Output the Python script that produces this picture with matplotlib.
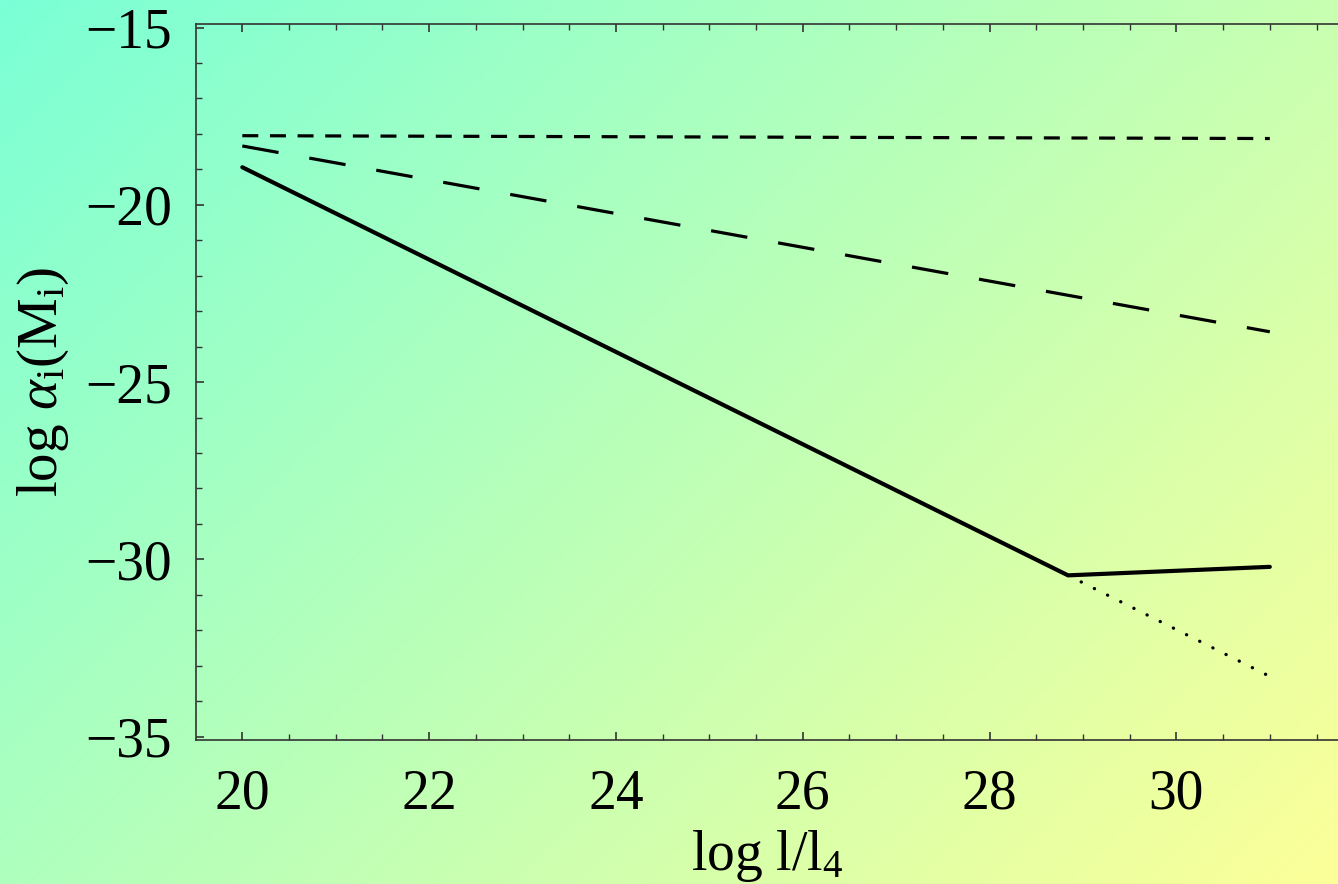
import numpy as np
import matplotlib
matplotlib.use("Agg")
import matplotlib.pyplot as plt
from matplotlib.ticker import MultipleLocator

plt.rcParams['font.family'] = ['Liberation Serif', 'DejaVu Serif']
plt.rcParams['mathtext.fontset'] = 'custom'
plt.rcParams['mathtext.rm'] = 'Liberation Serif'
plt.rcParams['mathtext.it'] = 'Liberation Serif:italic'
plt.rcParams['lines.scale_dashes'] = False

# Data
x_solid = [20.0, 28.84, 31.0]
y_solid = [-18.94, -30.45, -30.21]
x_dotted = [28.84, 31.0]
y_dotted = [-30.45, -33.30]
x_short = [20.0, 31.0]
y_short = [-18.05, -18.13]
x_long = [20.0, 31.0]
y_long = [-18.34, -23.58]

W, H = 1338, 884
fig = plt.figure(figsize=(W / 100, H / 100), dpi=100)

# background gradient
bg = fig.add_axes([0, 0, 1, 1], zorder=-10)
gx, gy = np.meshgrid(np.linspace(0, 1, 300), np.linspace(0, 1, 200))
t = (gx * 0.6 + gy * 0.4)
c0 = np.array([0.48, 1.0, 0.84])
c1 = np.array([0.99, 1.0, 0.60])
img = c0[None, None, :] * (1 - t[..., None]) + c1[None, None, :] * t[..., None]
bg.imshow(img, aspect='auto', extent=[0, 1, 0, 1], origin='upper')
bg.set_axis_off()

ax = fig.add_axes([195.7 / W, 1 - 739.7 / H, 1 - 195.7 / W, (739.7 - 24) / H])
ax.patch.set_alpha(0)

ax.plot(x_solid, y_solid, color='black', lw=3.0, solid_joinstyle='miter',
        solid_capstyle='round')
ax.plot(x_dotted, y_dotted, color='black', lw=2.4, dashes=(0.1, 10.5),
        dash_capstyle='round')
ax.plot(x_short, y_short, color='black', lw=2.3, dashes=(11.5, 8.4),
        dash_capstyle='butt')
ax.plot(x_long, y_long, color='black', lw=2.3, dashes=(26.5, 22.5),
        dash_capstyle='butt')

ax.set_xlim(19.501, 31.73)
ax.set_ylim(-35.085, -14.90)

ax.xaxis.set_major_locator(MultipleLocator(2))
ax.xaxis.set_minor_locator(MultipleLocator(0.5))
ax.yaxis.set_major_locator(MultipleLocator(5))
ax.yaxis.set_minor_locator(MultipleLocator(1))

ax.spines['right'].set_visible(False)
for s in ['left', 'bottom', 'top']:
    ax.spines[s].set_linewidth(1.2)
    ax.spines[s].set_color('#333333')

ax.tick_params(which='both', direction='in', top=True, right=False,
               labeltop=False, color='#333333')
ax.tick_params(which='major', length=6, width=1.2)
ax.tick_params(which='minor', length=4, width=1.0)
ax.tick_params(axis='x', which='major', pad=21, labelsize=40)
ax.tick_params(axis='y', which='major', pad=17, labelsize=40)

ax.set_xlabel(r'log l/l$_4$', fontsize=40, labelpad=5)
ax.set_ylabel(r'log $\alpha_{\rm i}$(M$_{\rm i}$)', fontsize=41, labelpad=10)

fig.savefig('out.png', dpi=100)
